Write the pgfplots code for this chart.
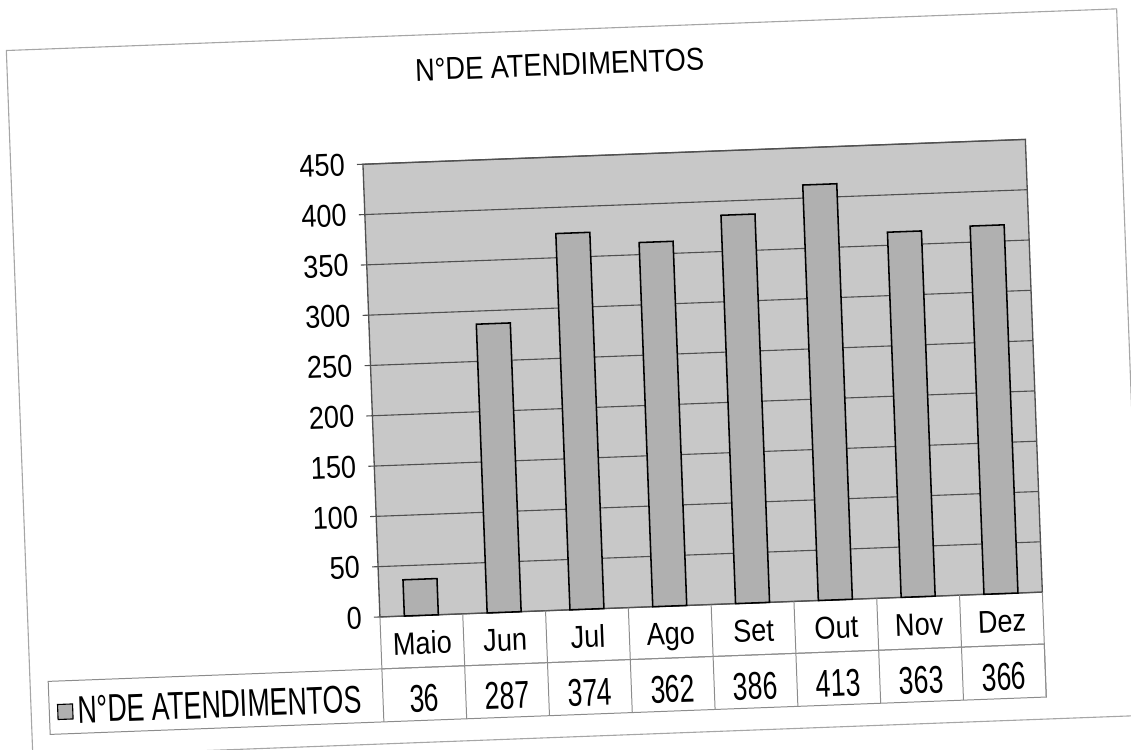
\documentclass[border=0pt]{standalone}
\usepackage{fontspec}
\setmainfont{Liberation Sans}
\newfontfamily\basefamily{Liberation Sans}[FakeStretch=0.86]
\newfontfamily\narrowfamily{Liberation Sans}[FakeStretch=0.69]
\newcommand\basefont{\basefamily\fontsize{14.3}{16}\selectfont}
\newcommand\numfont{\narrowfamily\fontsize{17.5}{19}\selectfont}
\usepackage{pgfplots}
\usepackage{pgfplotstable}
\pgfplotsset{compat=1.18}
\definecolor{plotbg}{HTML}{C8C8C8}
\definecolor{barfill}{HTML}{B0B0B0}
\definecolor{gridc}{HTML}{505050}
\definecolor{tbl}{HTML}{8C8C8C}

% monthly counts, May to December
\pgfplotstableread{
x n
0 36
1 287
2 374
3 362
4 386
5 413
6 363
7 366
}\atend

\begin{document}
\begin{tikzpicture}
\begin{scope}[transform canvas={rotate=2.15}]
\begin{axis}[
  at={(0pt,0pt)}, anchor=south west,
  scale only axis, width=300.1pt, height=205.1pt,
  xmin=-0.5, xmax=7.5, ymin=0, ymax=450,
  clip=false,
  axis background/.style={fill=plotbg},
  axis line style={draw=gridc, line width=0.6pt},
  xtick={0,...,7},
  xticklabels={Maio,Jun,Jul,Ago,Set,Out,Nov,Dez},
  xtick style={draw=none},
  xticklabel style={anchor=base, yshift=-14.8pt},
  ytick={0,50,...,450}, ytick pos=left,
  tick align=outside, major tick length=2.7pt,
  ytick style={draw=gridc, line width=0.5pt},
  yticklabel style={xshift=-2pt},
  ymajorgrids, grid style={draw=gridc, line width=0.5pt},
  tick label style={font=\basefont},
  /pgf/number format/assume math mode=true,
  title={N°DE ATENDIMENTOS},
  title style={at={(0.302,1.174)}, anchor=center, font=\basefont},
  legend style={at={(-0.4925,-0.183)}, anchor=west, draw=none, fill=none,
    inner sep=0pt, font=\numfont, legend cell align=left},
  legend image code/.code={\draw[fill=barfill, draw=black, line width=0.5pt]
    (0pt,-3.4pt) rectangle (6.8pt,3.4pt);},
]
\addplot[ybar, bar width=15.4pt, fill=barfill, draw=black, line width=0.7pt]
  table[x=x, y=n] {\atend};
\addlegendentry{N°DE ATENDIMENTOS}

% values row of the data table
\addplot[draw=none, mark=none, forget plot, point meta=explicit,
  nodes near coords,
  every node near coord/.append style={anchor=base, font=\numfont, text=black}]
  table[x=x, y expr=-96, meta=n] {\atend};

% table grid
\draw[tbl, line width=0.45pt] (axis cs:-0.5,-51.6) -- (axis cs:7.5,-51.6);
\draw[tbl, line width=0.45pt] (axis cs:-4.53,-51.6) rectangle (axis cs:7.5,-104.3);
\pgfplotsinvokeforeach{-0.5,0.5,1.5,2.5,3.5,4.5,5.5,6.5,7.5}{
  \draw[tbl, line width=0.45pt] (axis cs:#1,0) -- (axis cs:#1,-104.3);
}
\end{axis}
\draw[gray!70, line width=0.5pt] (-159.4pt,-57.5pt) rectangle (343.6pt,262.6pt);
\end{scope}
\pgfresetboundingbox
\path[use as bounding box] (-172.0pt,-60.2pt) rectangle (340.0pt,279.3pt);
\end{tikzpicture}
\end{document}
